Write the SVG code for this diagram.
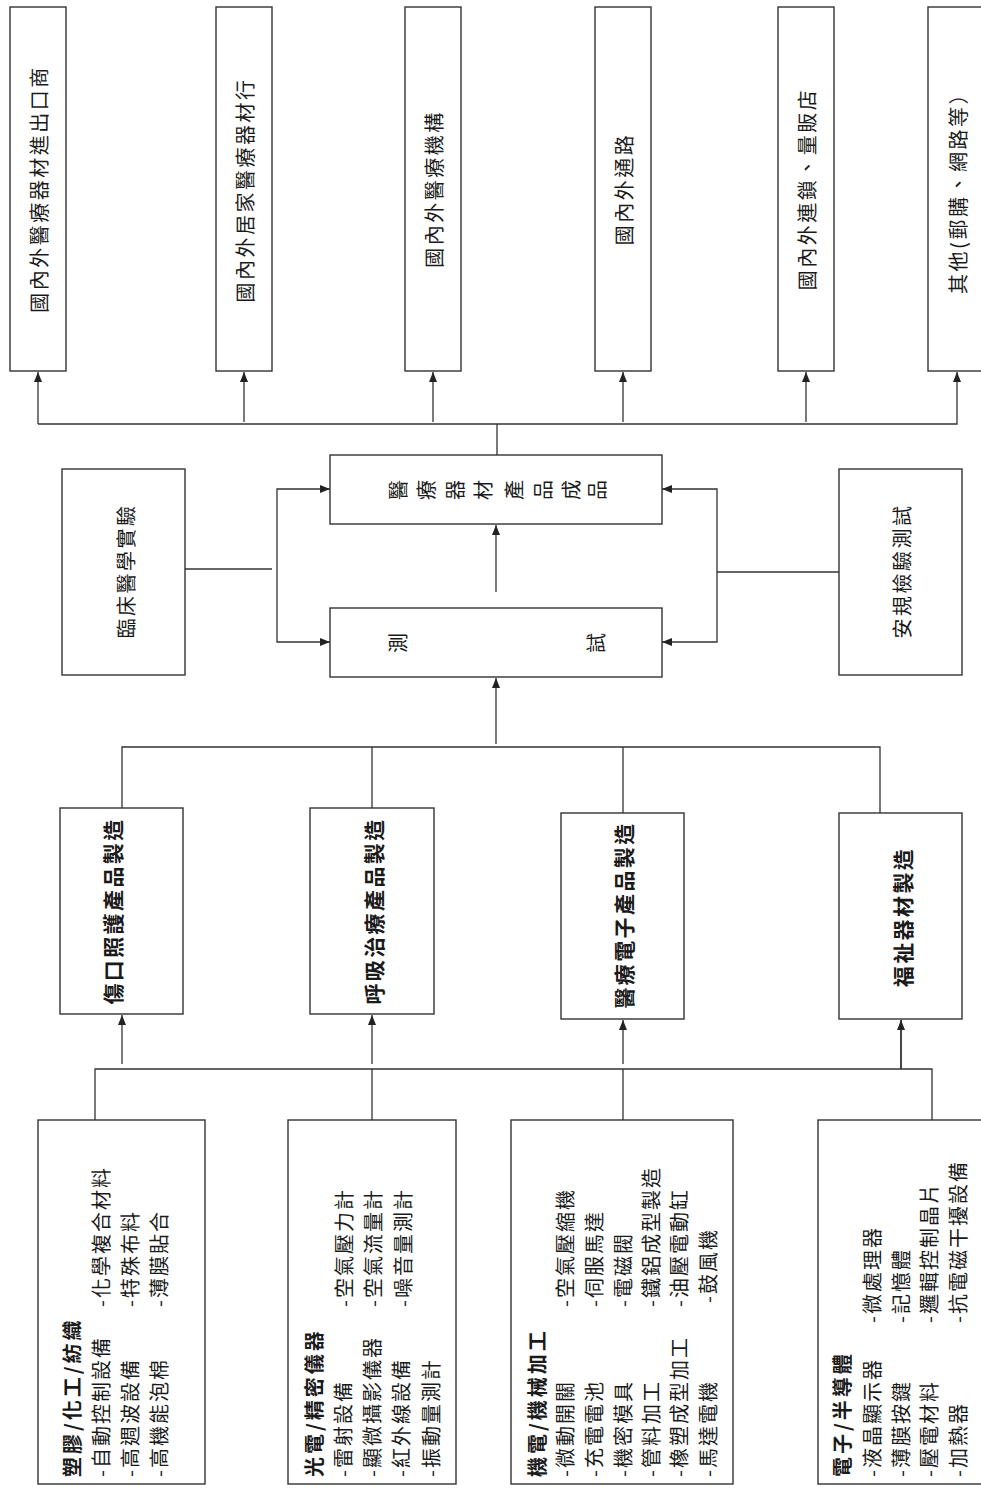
<svg xmlns="http://www.w3.org/2000/svg" width="981" height="1488" viewBox="0 0 981 1488">
<defs>
<style>
.box{fill:#fff;stroke:#333;stroke-width:1.4}
.ln{fill:none;stroke:#333;stroke-width:1.3}
.t{font-family:"Noto Sans CJK TC","Noto Sans CJK SC",sans-serif;font-size:20px;fill:#1a1a1a;dominant-baseline:central}
.tc{text-anchor:middle;letter-spacing:2.5px}
.ts{text-anchor:start;letter-spacing:2px}
.tb{font-weight:bold;letter-spacing:3px;text-anchor:start}
.tm{font-weight:bold;font-size:21px;text-anchor:middle;letter-spacing:2.4px}
.g{text-anchor:middle}
</style>
<marker id="ah" viewBox="0 0 10 10" refX="10" refY="5" markerWidth="10" markerHeight="10" markerUnits="userSpaceOnUse" orient="auto">
<path d="M0,1 L10,5 L0,9 z" fill="#222"/>
</marker>
</defs>
<rect width="981" height="1488" fill="#fff"/>

<g id="connectors">
<path class="ln" d="M38,424 V372" marker-end="url(#ah)"/>
<path class="ln" d="M38,424 H957 V372" marker-end="url(#ah)"/>
<path class="ln" d="M244,422 V372" marker-end="url(#ah)"/>
<path class="ln" d="M433,422 V372" marker-end="url(#ah)"/>
<path class="ln" d="M623,422 V372" marker-end="url(#ah)"/>
<path class="ln" d="M806,422 V372" marker-end="url(#ah)"/>
<path class="ln" d="M497,424 V455"/>
<path class="ln" d="M185,569 H272"/>
<path class="ln" d="M277,569 V489 H330" marker-end="url(#ah)"/>
<path class="ln" d="M277,569 V642 H330" marker-end="url(#ah)"/>
<path class="ln" d="M839,572 H717"/>
<path class="ln" d="M717,572 V489 H662" marker-end="url(#ah)"/>
<path class="ln" d="M717,572 V642 H662" marker-end="url(#ah)"/>
<path class="ln" d="M496,592 V525" marker-end="url(#ah)"/>
<path class="ln" d="M496,744 V678" marker-end="url(#ah)"/>
<path class="ln" d="M122,808 V747 H880 V813"/>
<path class="ln" d="M372,747 V808"/>
<path class="ln" d="M623,747 V813"/>
<path class="ln" d="M122,1064 V1015" marker-end="url(#ah)"/>
<path class="ln" d="M372,1064 V1015" marker-end="url(#ah)"/>
<path class="ln" d="M623,1064 V1020" marker-end="url(#ah)"/>
<path class="ln" d="M901,1069 V1020" marker-end="url(#ah)" style="stroke-width:1.8"/>
<path class="ln" d="M95,1120 V1069 H932 V1120"/>
<path class="ln" d="M372,1069 V1120"/>
<path class="ln" d="M623,1069 V1120"/>
</g>

<g id="n-export">
<rect class="box" x="10" y="7" width="56" height="364"/>
<text class="t tc" transform="translate(38,189) rotate(-90)">國內外醫療器材進出口商</text>
</g>
<g id="n-homecare">
<rect class="box" x="216" y="7" width="56" height="364"/>
<text class="t tc" transform="translate(244,190) rotate(-90)">國內外居家醫療器材行</text>
</g>
<g id="n-institution">
<rect class="box" x="405" y="7" width="56" height="364"/>
<text class="t tc" transform="translate(433,189) rotate(-90)">國內外醫療機構</text>
</g>
<g id="n-channel">
<rect class="box" x="595" y="7" width="56" height="364"/>
<text class="t tc" transform="translate(623,189) rotate(-90)">國內外通路</text>
</g>
<g id="n-chain">
<rect class="box" x="778" y="7" width="56" height="364"/>
<text class="t tc" transform="translate(806,189) rotate(-90)">國內外連鎖、量販店</text>
</g>
<g id="n-other">
<rect class="box" x="928" y="7" width="60" height="364"/>
<text class="t tc" transform="translate(957,188) rotate(-90)">其他(郵購、網路等）</text>
</g>

<g id="n-product">
<rect class="box" x="330" y="455" width="332" height="69"/>
<text class="t g" transform="translate(397,490) rotate(-90)">醫</text>
<text class="t g" transform="translate(425,490) rotate(-90)">療</text>
<text class="t g" transform="translate(454,490) rotate(-90)">器</text>
<text class="t g" transform="translate(482,490) rotate(-90)">材</text>
<text class="t g" transform="translate(513,490) rotate(-90)">產</text>
<text class="t g" transform="translate(542,490) rotate(-90)">品</text>
<text class="t g" transform="translate(570,490) rotate(-90)">成</text>
<text class="t g" transform="translate(596,490) rotate(-90)">品</text>
</g>
<g id="n-test">
<rect class="box" x="330" y="608" width="332" height="69"/>
<text class="t g" transform="translate(397,643) rotate(-90)">測</text>
<text class="t g" transform="translate(595,643) rotate(-90)">試</text>
</g>
<g id="n-clinical">
<rect class="box" x="62" y="469" width="123" height="206"/>
<text class="t tc" transform="translate(125,571) rotate(-90)">臨床醫學實驗</text>
</g>
<g id="n-safety">
<rect class="box" x="839" y="469" width="123" height="206"/>
<text class="t tc" transform="translate(901,571) rotate(-90)">安規檢驗測試</text>
</g>

<g id="n-wound">
<rect class="box" x="60" y="808" width="123" height="206"/>
<text class="t tm" transform="translate(112,911) rotate(-90)">傷口照護產品製造</text>
</g>
<g id="n-respiratory">
<rect class="box" x="310" y="808" width="124" height="206"/>
<text class="t tm" transform="translate(373,911) rotate(-90)">呼吸治療產品製造</text>
</g>
<g id="n-electronic">
<rect class="box" x="561" y="813" width="123" height="206"/>
<text class="t tm" transform="translate(623,915) rotate(-90)">醫療電子產品製造</text>
</g>
<g id="n-welfare">
<rect class="box" x="839" y="813" width="123" height="206"/>
<text class="t tm" transform="translate(902,917) rotate(-90)">福祉器材製造</text>
</g>

<g id="n-plastics">
<rect class="box" x="38" y="1120" width="167" height="364"/>
<text class="t tb" transform="translate(71,1477) rotate(-90)">塑膠/化工/紡織</text>
<text class="t ts" transform="translate(100,1477) rotate(-90)">-自動控制設備</text>
<text class="t ts" transform="translate(129,1477) rotate(-90)">-高週波設備</text>
<text class="t ts" transform="translate(158,1477) rotate(-90)">-高機能泡棉</text>
<text class="t ts" transform="translate(100,1307) rotate(-90)">-化學複合材料</text>
<text class="t ts" transform="translate(129,1307) rotate(-90)">-特殊布料</text>
<text class="t ts" transform="translate(158,1307) rotate(-90)">-薄膜貼合</text>
</g>
<g id="n-optics">
<rect class="box" x="288" y="1120" width="168" height="364"/>
<text class="t tb" transform="translate(313,1477) rotate(-90)">光電/精密儀器</text>
<text class="t ts" transform="translate(342,1477) rotate(-90)">-雷射設備</text>
<text class="t ts" transform="translate(371,1477) rotate(-90)">-顯微攝影儀器</text>
<text class="t ts" transform="translate(400,1477) rotate(-90)">-紅外線設備</text>
<text class="t ts" transform="translate(430,1477) rotate(-90)">-振動量測計</text>
<text class="t ts" transform="translate(343,1307) rotate(-90)">-空氣壓力計</text>
<text class="t ts" transform="translate(372,1307) rotate(-90)">-空氣流量計</text>
<text class="t ts" transform="translate(402,1307) rotate(-90)">-噪音量測計</text>
</g>
<g id="n-mechanical">
<rect class="box" x="511" y="1120" width="222" height="364"/>
<text class="t tb" transform="translate(536,1477) rotate(-90)">機電/機械加工</text>
<text class="t ts" transform="translate(564,1477) rotate(-90)">-微動開關</text>
<text class="t ts" transform="translate(593,1477) rotate(-90)">-充電電池</text>
<text class="t ts" transform="translate(622,1477) rotate(-90)">-機密模具</text>
<text class="t ts" transform="translate(650,1477) rotate(-90)">-管料加工</text>
<text class="t ts" transform="translate(678,1477) rotate(-90)">-橡塑成型加工</text>
<text class="t ts" transform="translate(707,1477) rotate(-90)">-馬達電機</text>
<text class="t ts" transform="translate(564,1307) rotate(-90)">-空氣壓縮機</text>
<text class="t ts" transform="translate(593,1307) rotate(-90)">-伺服馬達</text>
<text class="t ts" transform="translate(622,1307) rotate(-90)">-電磁閥</text>
<text class="t ts" transform="translate(650,1307) rotate(-90)">-鐵鋁成型製造</text>
<text class="t ts" transform="translate(678,1307) rotate(-90)">-油壓電動缸</text>
<text class="t ts" transform="translate(707,1303) rotate(-90)">-鼓風機</text>
</g>
<g id="n-semiconductor">
<rect class="box" x="818" y="1120" width="180" height="364"/>
<text class="t tb" transform="translate(841,1477) rotate(-90)">電子/半導體</text>
<text class="t ts" transform="translate(871,1477) rotate(-90)">-液晶顯示器</text>
<text class="t ts" transform="translate(900,1477) rotate(-90)">-薄膜按鍵</text>
<text class="t ts" transform="translate(928,1477) rotate(-90)">-壓電材料</text>
<text class="t ts" transform="translate(957,1477) rotate(-90)">-加熱器</text>
<text class="t ts" transform="translate(871,1323) rotate(-90)">-微處理器</text>
<text class="t ts" transform="translate(900,1323) rotate(-90)">-記憶體</text>
<text class="t ts" transform="translate(928,1323) rotate(-90)">-邏輯控制晶片</text>
<text class="t ts" transform="translate(957,1323) rotate(-90)">-抗電磁干擾設備</text>
</g>
</svg>
